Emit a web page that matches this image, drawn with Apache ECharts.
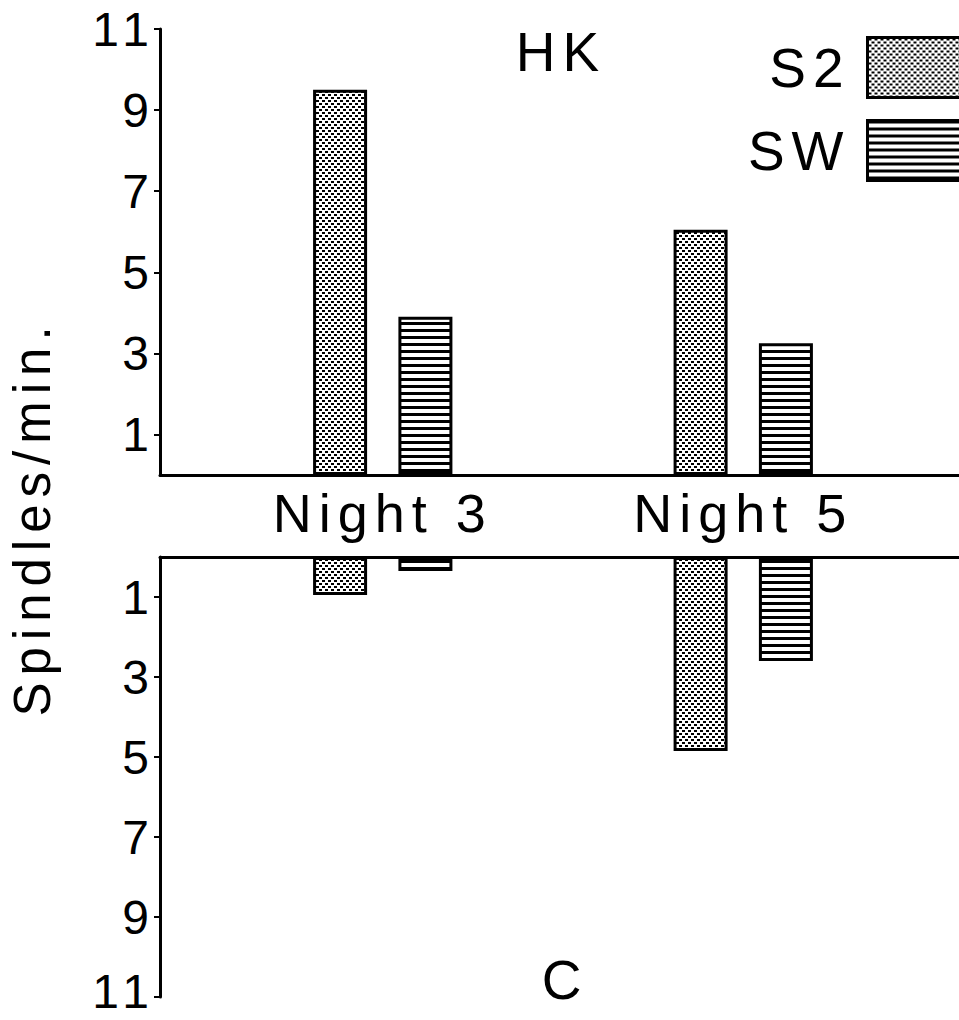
<!DOCTYPE html>
<html>
<head>
<meta charset="utf-8">
<title>HK spindles</title>
<script src="https://cdn.jsdelivr.net/npm/echarts@6/dist/echarts.min.js"></script>
<style>
  html, body { margin: 0; padding: 0; background: #fff; }
  #chart { width: 959px; height: 1020px; }
  /* the scanned lettering is widely tracked */
  #chart text { letter-spacing: 7px; }
</style>
</head>
<body>
<div id="chart"></div>
<script>
// data
const categories = ['Night 3', 'Night 5'];
const s2Upper = [9.5, 6.05];
const swUpper = [3.9, 3.25];
const s2Lower = [0.95, 4.85];
const swLower = [0.35, 2.6];
const tickValues = [1, 3, 5, 7, 9, 11];

const FONT = "'Liberation Sans', Arial, Helvetica, sans-serif";

// fill patterns: stipple for S2, horizontal rules for SW
function makePattern(w, h, draw) {
  const c = document.createElement('canvas');
  c.width = w;
  c.height = h;
  const ctx = c.getContext('2d');
  ctx.fillStyle = '#fff';
  ctx.fillRect(0, 0, w, h);
  ctx.fillStyle = '#000';
  draw(ctx);
  return { image: c, repeat: 'repeat', imageWidth: w, imageHeight: h };
}
const dots = makePattern(6, 6, ctx => {
  ctx.fillRect(1, 1, 3, 2);
  ctx.fillRect(4, 4, 2, 2);
  ctx.fillRect(0, 4, 1, 2);
});
const rules = makePattern(4, 7, ctx => {
  ctx.fillRect(0, 0, 4, 3);
});

const black = '#000';

// axis with the visible spine and odd ticks
const frameY = (gridIndex, inverse) => ({
  type: 'value',
  gridIndex: gridIndex,
  min: 0,
  max: 11,
  inverse: inverse,
  axisLine: { show: true, onZero: false, lineStyle: { color: black, width: 3 } },
  axisTick: { show: true, length: 6, customValues: tickValues, lineStyle: { color: black, width: 2 } },
  axisLabel: {
    customValues: tickValues, margin: 4, color: black, fontSize: 48, lineHeight: 38, fontFamily: FONT,
    // the last label of the lower panel sits on the page edge, lift it a little
    formatter: v => (inverse && v === 11 ? '{edge|' + v + '}' : String(v)),
    rich: { edge: { fontSize: 48, fontFamily: FONT, color: black, padding: [0, 0, 12, 0] } }
  },
  splitLine: { show: false }
});
const frameX = (gridIndex, position) => ({
  type: 'value',
  gridIndex: gridIndex,
  position: position,
  min: 0,
  max: 1,
  axisLine: { show: true, onZero: false, lineStyle: { color: black, width: 3 } },
  axisTick: { show: false },
  axisLabel: { show: false },
  splitLine: { show: false }
});
const barX = (gridIndex, position, showLabel) => ({
  type: 'category',
  gridIndex: gridIndex,
  position: position,
  data: categories,
  axisLine: { show: false },
  axisTick: { show: false },
  axisLabel: { show: showLabel, margin: 11, color: black, fontSize: 54, fontFamily: FONT }
});
const barY = (gridIndex, inverse) => ({
  type: 'value', gridIndex: gridIndex, min: 0, max: 11, inverse: inverse, show: false
});

const barSeries = (name, data, fill, axisIndex) => ({
  name: name,
  type: 'bar',
  xAxisIndex: axisIndex,
  yAxisIndex: axisIndex,
  data: data,
  barWidth: 54,
  barGap: '58%',
  itemStyle: { color: fill, borderColor: black, borderWidth: 3 },
  emphasis: { disabled: true }
});

const chart = echarts.init(document.getElementById('chart'), null, { renderer: 'svg' });

chart.setOption({
  animation: false,
  backgroundColor: '#fff',
  grid: [
    { left: 160, right: -10, top: 29, height: 446 },
    { left: 202.5, width: 721, top: 29, height: 446 },
    { left: 160, right: -10, top: 557, height: 440 },
    { left: 202.5, width: 721, top: 557, height: 440 }
  ],
  xAxis: [
    frameX(0, 'bottom'),
    barX(1, 'bottom', true),
    frameX(2, 'top'),
    barX(3, 'top', false)
  ],
  yAxis: [
    frameY(0, false),
    barY(1, false),
    frameY(2, true),
    barY(3, true)
  ],
  legend: {
    data: ['S2', 'SW'],
    orient: 'vertical',
    align: 'right',
    right: -25,
    top: 31,
    icon: 'rect',
    itemWidth: 110,
    itemHeight: 60,
    itemGap: 20,
    selectedMode: false,
    itemStyle: { borderColor: black, borderWidth: 3 },
    formatter: '{t|{name}}',
    textStyle: {
      rich: { t: { fontSize: 55, lineHeight: 50, fontFamily: FONT, color: black, padding: [0, 12, 0, 0] } }
    }
  },
  graphic: [
    {
      type: 'text', x: 561, y: 52,
      style: { text: 'HK', fontSize: 55, fontFamily: FONT, fill: black, align: 'center', verticalAlign: 'middle', textAlign: 'center', textVerticalAlign: 'middle' }
    },
    {
      type: 'text', x: 565, y: 980,
      style: { text: 'C', fontSize: 55, fontFamily: FONT, fill: black, align: 'center', verticalAlign: 'middle', textAlign: 'center', textVerticalAlign: 'middle' }
    },
    {
      type: 'text', x: 32, y: 518, rotation: Math.PI / 2,
      style: { text: 'Spindles/min.', fontSize: 51, fontFamily: FONT, fill: black, align: 'center', verticalAlign: 'middle', textAlign: 'center', textVerticalAlign: 'middle' }
    }
  ],
  series: [
    barSeries('S2', s2Upper, dots, 1),
    barSeries('SW', swUpper, rules, 1),
    barSeries('S2', s2Lower, dots, 3),
    barSeries('SW', swLower, rules, 3)
  ]
});
</script>
</body>
</html>
